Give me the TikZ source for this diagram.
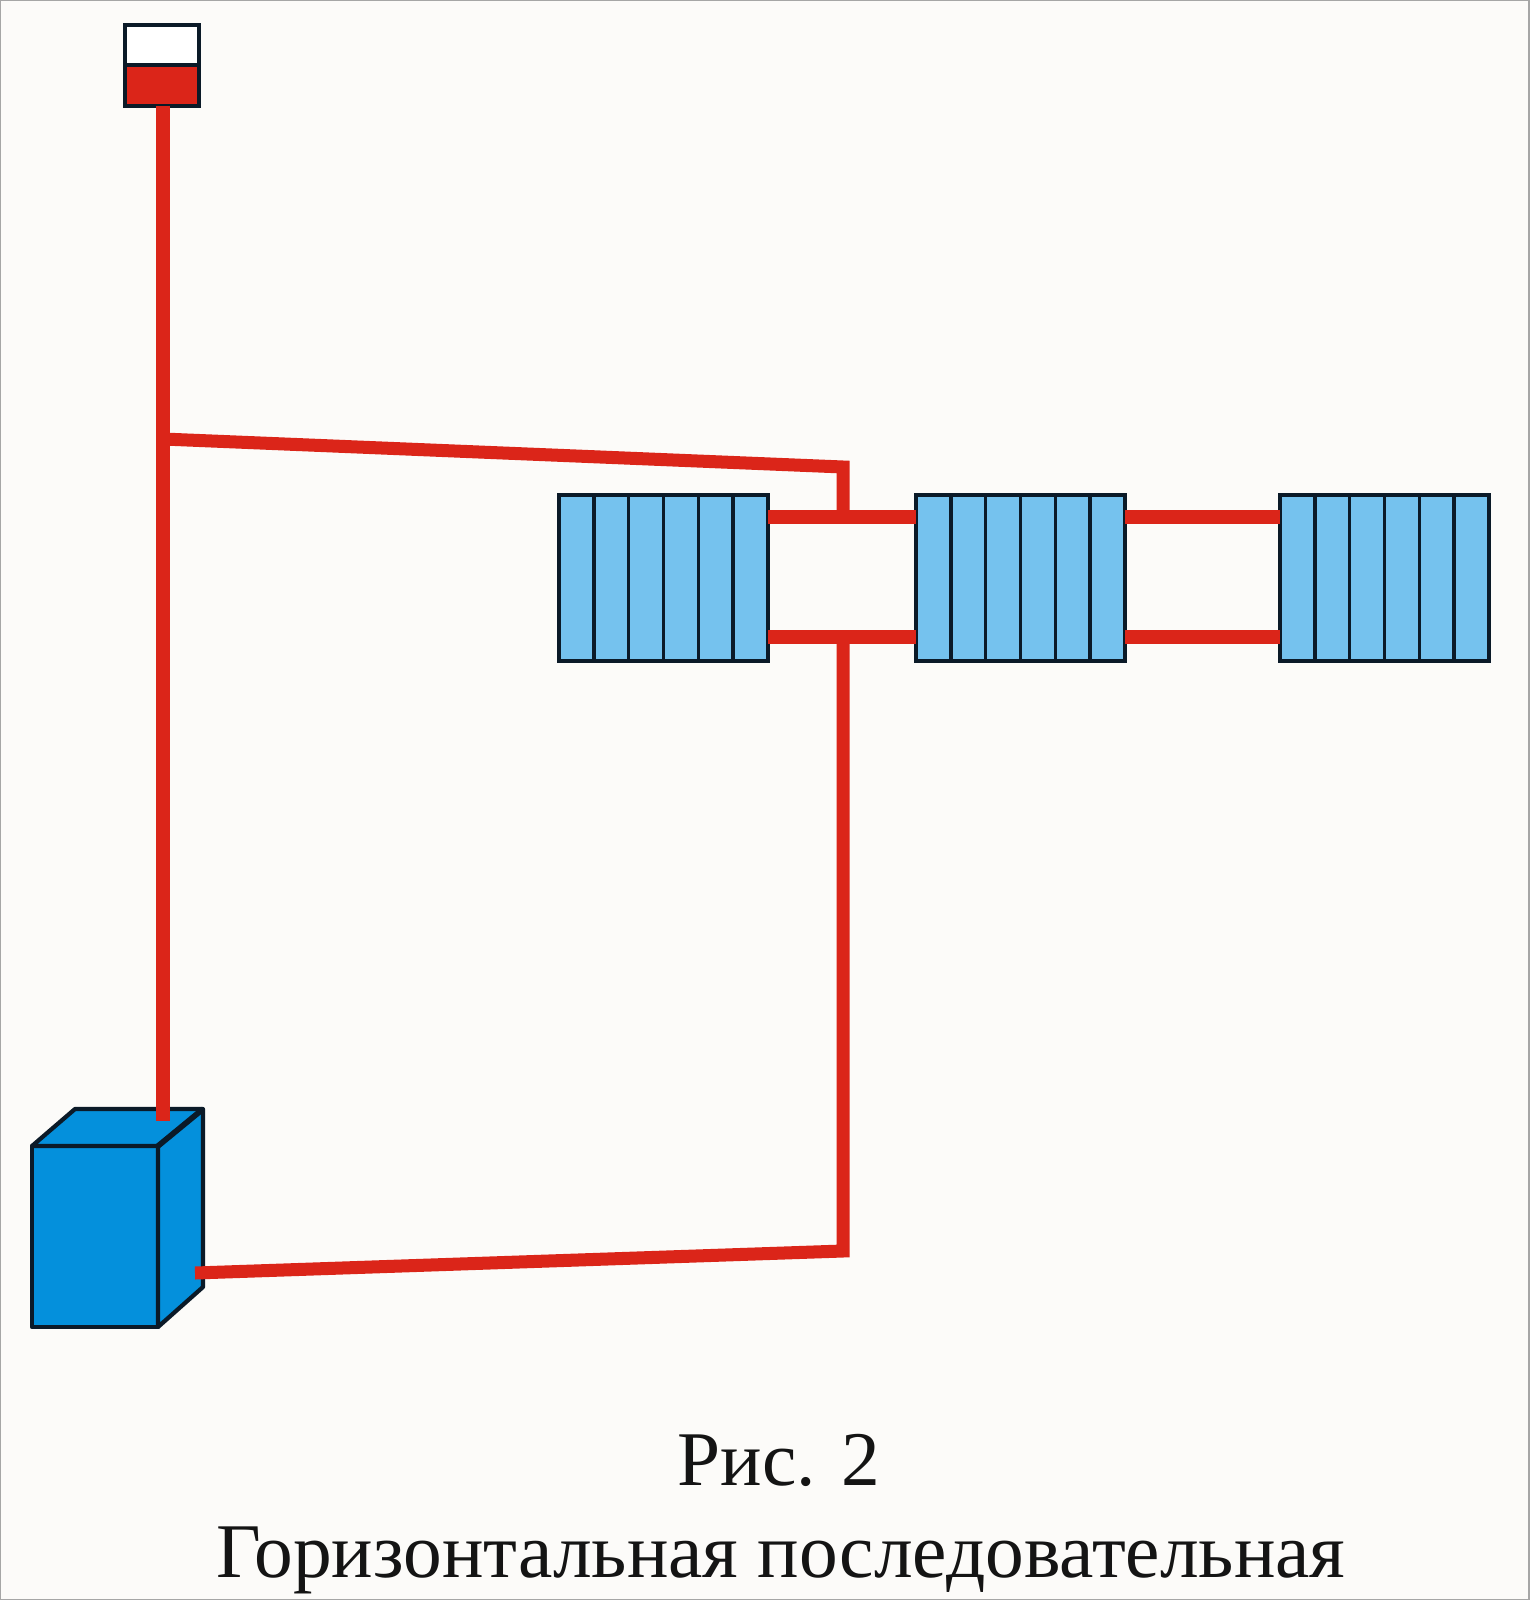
\documentclass[tikz,border=0pt]{standalone}
\usepackage{fontspec}
\setmainfont{Liberation Serif}
\usepackage{xcolor}
\usetikzlibrary{calc}
\definecolor{pipered}{HTML}{DB2519}
\definecolor{boilerblue}{HTML}{0490DC}
\definecolor{radblue}{HTML}{75C2EE}
\definecolor{edgedark}{HTML}{0B1A28}
\definecolor{paper}{HTML}{FCFBF9}
\tikzset{
  pipe/.style={draw=pipered,line width=3.7pt},
  outline/.style={draw=edgedark,line width=1pt,line join=miter},
  boileredge/.style={draw=edgedark,line width=1.2pt,line join=round,fill=boilerblue},
  tankbox/.style={outline,minimum width=0.74cm,inner sep=0pt,outer sep=0pt},
  radiator/.style={outline,fill=radblue,minimum width=2.09cm,minimum height=1.66cm,inner sep=0pt,outer sep=0pt},
  caption/.style={font=\fontsize{22}{26}\selectfont,text=black!92,inner sep=0pt}
}

\begin{document}
\begin{tikzpicture}[x=0.01cm,y=-0.01cm]
    \useasboundingbox (0,0) rectangle (1529,1600);
    \fill[paper] (0,0) rectangle (1529,1600);
    \draw[black!35,line width=0.6pt] (0,0) rectangle (1529,1600);
    % boiler
    \filldraw[boileredge] (32,1146) rectangle (158,1327);
    \filldraw[boileredge] (32,1146) -- (75,1109) -- (203,1109) -- (158,1146) -- cycle;
    \filldraw[boileredge] (158,1146) -- (203,1109) -- (203,1287) -- (158,1327) -- cycle;
    \draw[draw=edgedark,line width=1.6pt] (158,1146) -- (203,1109);
    % tank
    \node[tankbox,fill=white,minimum height=0.40cm] (tanktop) at (162,45) {};
    \node[tankbox,fill=pipered,minimum height=0.41cm] (tankfill) at (162,85.5) {};
    % radiators
    \node[radiator] (rada) at (663.5,578) {};
    \node[radiator] (radb) at (1020.5,578) {};
    \node[radiator] (radc) at (1384.5,578) {};
    \foreach \r in {rada,radb,radc}
      \foreach \i in {1,...,5}
        \draw[outline] ($(\r.north west)+(\i*34.83,0)$) -- ($(\r.south west)+(\i*34.83,0)$);
    % pipes
    \coordinate (risertop) at (163,106);
    \coordinate (riserend) at (163,1121);
    \coordinate (tee) at (163,439);
    \coordinate (kneetop) at (843,467);
    \coordinate (levelup) at (0,517);
    \coordinate (leveldown) at (0,637);
    \coordinate (kneelow) at (843,1251);
    \coordinate (boilerout) at (195,1273);
    \draw[pipe] (risertop) -- (riserend);
    \draw[pipe,line join=miter] (tee) -- (kneetop) -- (kneetop |- levelup);
    \draw[pipe] (rada.east |- levelup) -- (radb.west |- levelup);
    \draw[pipe] (radb.east |- levelup) -- (radc.west |- levelup);
    \draw[pipe] (rada.east |- leveldown) -- (radb.west |- leveldown);
    \draw[pipe] (radb.east |- leveldown) -- (radc.west |- leveldown);
    \draw[pipe,line join=miter] (kneelow |- leveldown) -- (kneelow) -- (boilerout);
    % caption
    \node[caption,anchor=base] (capone) at (779,1485) {Рис. 2};
    \node[caption,anchor=base] (captwo) at (781,1577) {Горизонтальная последовательная};
\end{tikzpicture}
\end{document}
